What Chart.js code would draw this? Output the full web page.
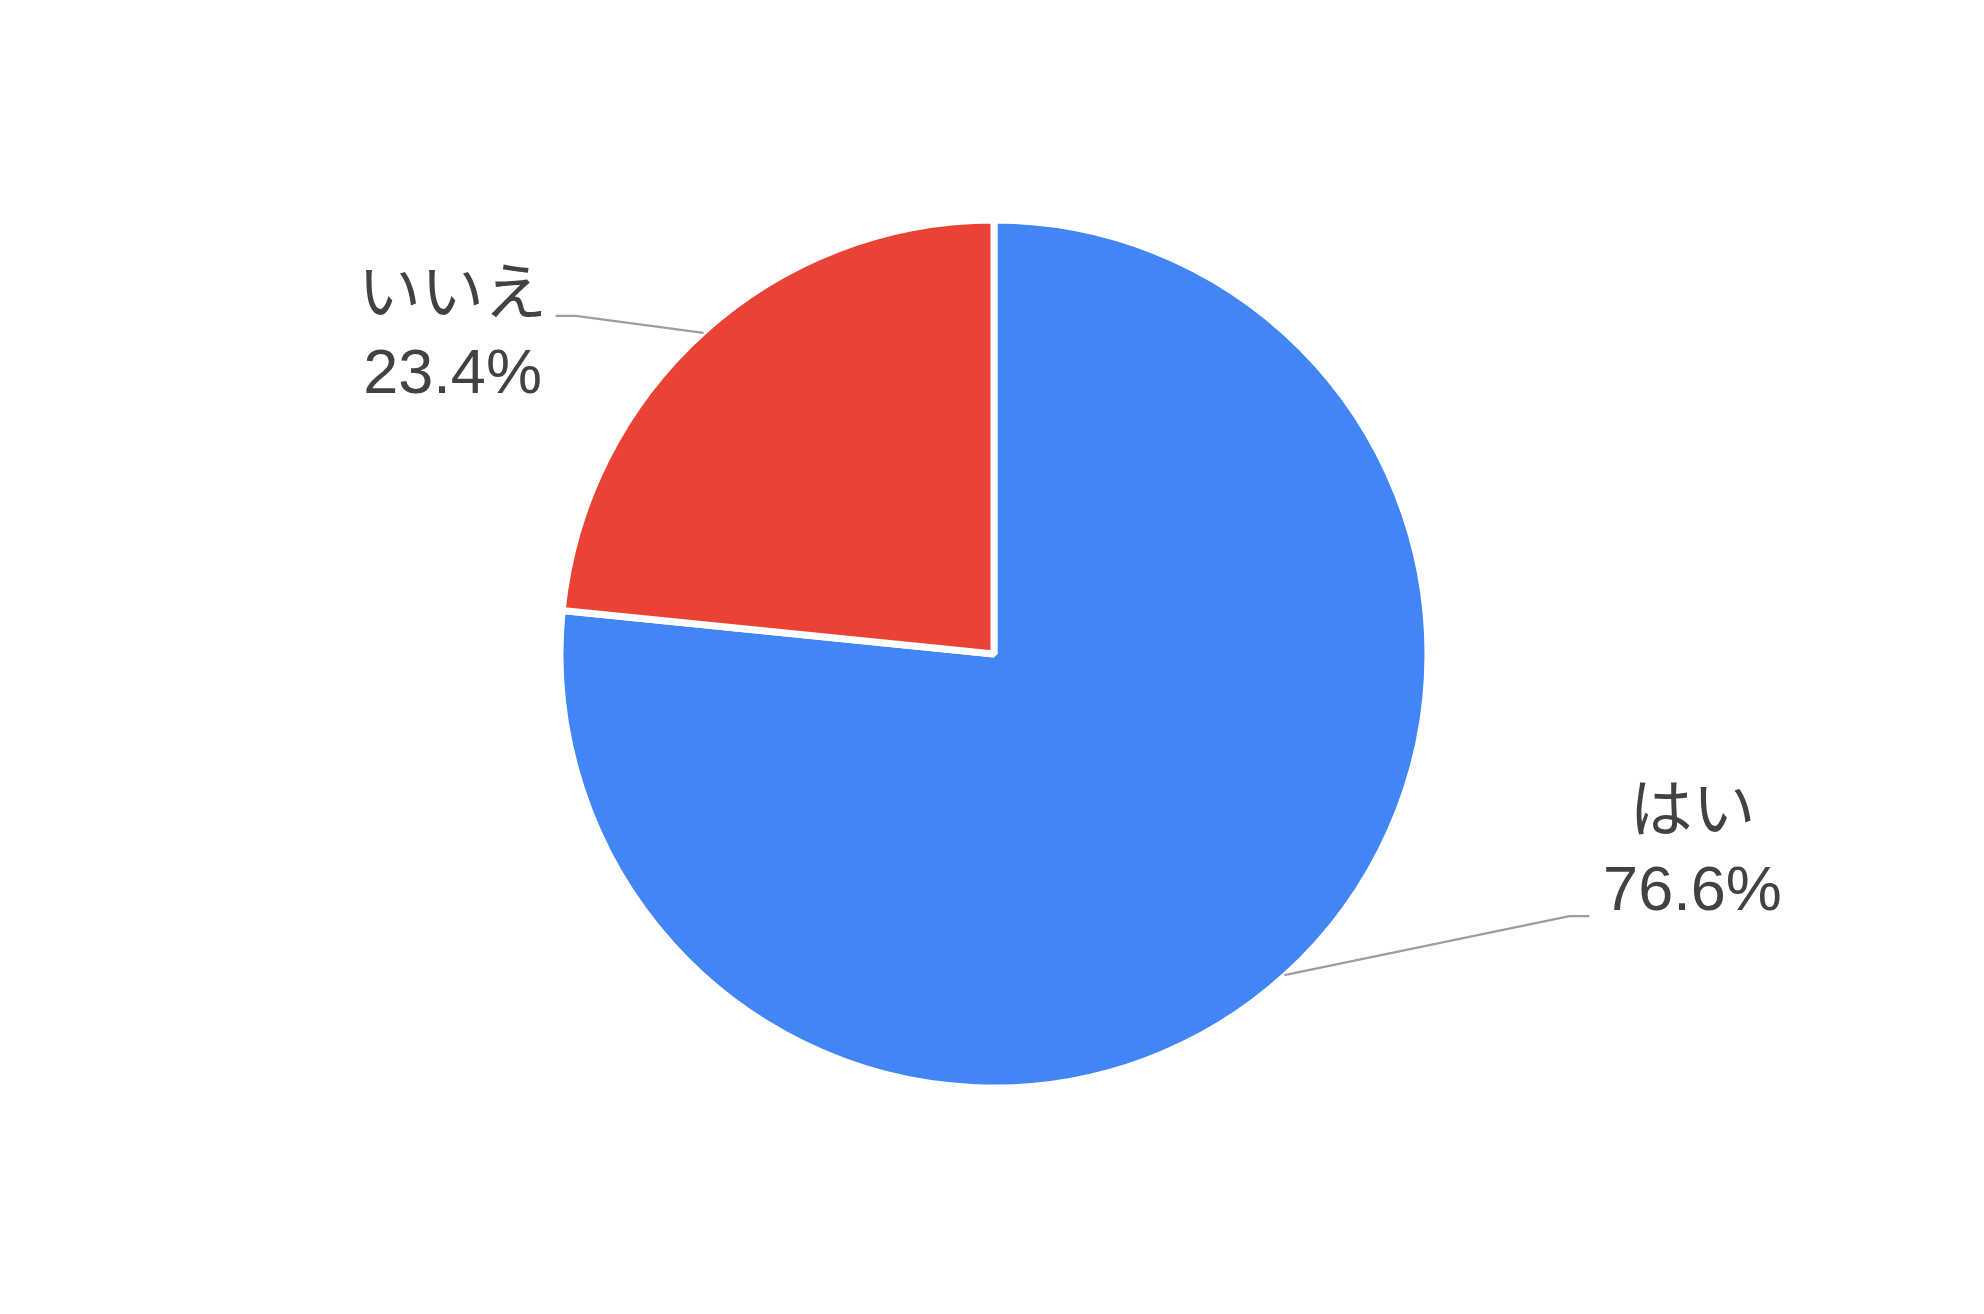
<!DOCTYPE html>
<html lang="ja">
<head>
<meta charset="utf-8">
<title>はい / いいえ</title>
<script src="https://cdn.jsdelivr.net/npm/chart.js@4.4.1/dist/chart.umd.min.js"></script>
<style>
  html, body { margin: 0; padding: 0; background: #fff; }
  #wrap { width: 1984px; height: 1314px; position: relative; }
</style>
</head>
<body>
<div id="wrap"><canvas id="pie"></canvas></div>
<script>
const categories = ['はい', 'いいえ'];
const shares = [76.6, 23.4];
const sliceColors = ['#4285F4', '#EA4335'];

// leader line + two-line label, Google Sheets style
const leaderLabels = {
  id: 'leaderLabels',
  afterDatasetsDraw(chart, args, opts) {
    const ctx = chart.ctx;
    const meta = chart.getDatasetMeta(0);
    const values = chart.data.datasets[0].data;
    const total = values.reduce((a, b) => a + b, 0);

    meta.data.forEach((arc, i) => {
      const p = arc.getProps(['x', 'y', 'startAngle', 'endAngle', 'outerRadius'], true);
      const mid = (p.startAngle + p.endAngle) / 2;
      const r = p.outerRadius - 1;
      const sx = p.x + Math.cos(mid) * r;
      const sy = p.y + Math.sin(mid) * r;
      const place = opts.place[i];
      const ex = sx + place.elbow[0];
      const ey = sy + place.elbow[1];
      const side = ex < p.x ? -1 : 1;
      const lx = ex + side * 20;

      ctx.save();
      ctx.strokeStyle = '#9e9e9e';
      ctx.lineWidth = 2.2;
      ctx.beginPath();
      ctx.moveTo(sx, sy);
      ctx.lineTo(ex, ey);
      ctx.lineTo(lx, ey);
      ctx.stroke();

      const pct = (values[i] / total * 100).toFixed(1) + '%';
      ctx.fillStyle = '#424242';
      ctx.textAlign = 'center';
      ctx.textBaseline = 'alphabetic';
      ctx.font = opts.font;
      const cx = lx + side * 103;
      const base2 = ey + place.baseline;
      ctx.fillText(chart.data.labels[i], cx, base2 - 79);
      ctx.fillText(pct, cx, base2);
      ctx.restore();
    });
  }
};

new Chart(document.getElementById('pie'), {
  type: 'pie',
  data: {
    labels: categories,
    datasets: [{
      data: shares,
      backgroundColor: sliceColors,
      borderColor: '#ffffff',
      borderWidth: 7,
      radius: 434
    }]
  },
  options: {
    responsive: true,
    maintainAspectRatio: false,
    animation: false,
    layout: { padding: { left: 4, right: 0, top: 0, bottom: 6 } },
    plugins: {
      legend: { display: false },
      tooltip: { enabled: false },
      leaderLabels: {
        font: '63px "Liberation Sans", Arial, "Noto Sans CJK JP", sans-serif',
        place: [
          { elbow: [285, -59], baseline: -6 },
          { elbow: [-128, -17], baseline: 77 }
        ]
      }
    }
  },
  plugins: [leaderLabels]
});
</script>
</body>
</html>
